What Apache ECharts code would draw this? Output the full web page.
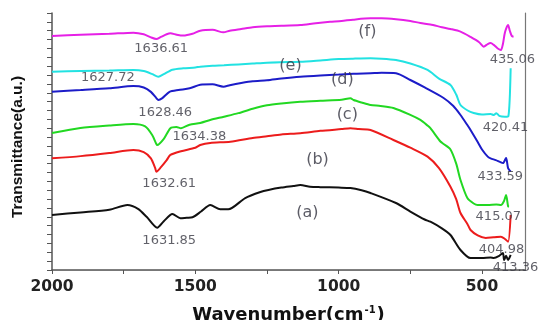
<!DOCTYPE html>
<html>
<head>
<meta charset="utf-8">
<script src="https://cdn.jsdelivr.net/npm/echarts@6/dist/echarts.min.js"></script>
<style>html,body{margin:0;padding:0;background:#fff;}#c{width:539px;height:320px;}</style>
</head>
<body>
<div id="c"></div>
<script>
// ---- data (wavenumber cm^-1, transmittance a.u.) ----
const wF = [2000,1900,1800,1716,1680,1655,1636,1620,1600,1587,1565,1542,1510,1483,1440,1402,1380,1340,1300,1250,1200,1134,1080,1030,990,950,889,850,800,750,715,680,640,610,575,540,510,494,480,470,459,445,434,427,420,409,403,396,390];
const vF = [26.40,26.55,26.65,26.78,26.60,26.25,26.07,26.30,26.60,26.71,26.55,26.45,26.65,27.00,27.10,26.82,27.00,27.20,27.40,27.50,27.55,27.65,27.85,28.00,28.10,28.25,28.40,28.40,28.30,28.10,27.87,27.70,27.40,27.20,26.90,26.30,25.70,25.20,25.50,25.61,25.40,25.00,24.82,25.50,26.80,27.65,27.00,26.40,26.33];

const wE = [2000,1900,1800,1716,1680,1650,1629,1610,1580,1542,1500,1483,1440,1400,1350,1300,1250,1200,1134,1064,1000,950,889,850,800,750,690,650,610,590,575,550,529,500,470,459,450,440,420,408,400];
const vE = [22.38,22.45,22.50,22.57,22.45,22.10,21.81,22.10,22.60,22.76,22.85,22.94,23.05,23.10,23.20,23.30,23.40,23.45,23.50,23.65,23.80,23.85,23.89,23.85,23.70,23.30,22.57,21.60,20.88,19.80,18.62,18.00,17.72,17.55,17.60,17.49,17.70,17.40,17.30,17.35,22.76];

const wD = [2000,1900,1800,1716,1680,1655,1636,1629,1615,1590,1559,1520,1483,1440,1402,1380,1340,1300,1250,1200,1134,1064,1000,950,889,850,800,750,700,634,600,575,550,540,515,500,480,470,452,427,416,409,400];
const vD = [20.12,20.30,20.50,20.76,20.60,20.10,19.40,19.18,19.40,20.10,20.31,20.50,20.90,20.95,20.68,20.85,21.10,21.30,21.40,21.60,21.81,21.95,22.05,22.15,22.20,22.25,22.20,21.44,20.60,19.41,18.50,17.49,16.30,15.80,14.44,13.60,12.79,12.60,12.40,12.07,12.64,11.50,11.09];

const wC = [2000,1901,1800,1716,1675,1650,1636,1633,1610,1587,1566,1550,1520,1483,1448,1400,1350,1300,1250,1200,1134,1064,990,959,948,920,889,854,809,750,715,690,680,645,634,610,590,575,551,529,515,480,450,434,423,416,409,406];
const vC = [15.46,16.02,16.30,16.47,16.20,15.20,14.22,14.10,14.80,16.00,16.14,16.00,16.40,16.59,16.93,17.30,17.70,18.20,18.60,18.80,18.99,19.10,19.20,19.38,19.18,18.90,18.62,18.51,18.28,17.50,16.93,16.30,16.00,14.50,14.22,13.60,12.00,10.16,8.12,7.50,7.33,7.33,7.40,7.33,7.80,8.46,7.20,7.14];

const wB = [2000,1900,1800,1716,1680,1655,1640,1636,1620,1600,1587,1550,1500,1483,1448,1378,1300,1250,1200,1134,1064,990,959,930,889,809,750,690,650,610,590,575,551,540,515,487,460,434,420,409,400];
const vB = [12.60,12.85,13.20,13.54,13.30,12.60,11.50,11.09,11.60,12.40,12.98,13.40,13.80,14.10,14.33,14.48,14.90,15.10,15.30,15.43,15.70,15.90,15.99,15.90,15.80,14.67,13.80,12.79,11.50,9.40,8.00,6.43,5.20,4.51,3.90,3.61,3.70,3.76,3.50,3.19,6.21];

const wA = [2000,1900,1800,1737,1700,1670,1633,1610,1580,1552,1530,1510,1480,1448,1413,1385,1326,1273,1245,1200,1158,1134,1100,1064,1000,959,920,889,800,750,700,680,640,610,575,540,500,470,459,440,427,423,416,409,400];
const vA = [6.21,6.50,6.80,7.33,6.90,6.00,4.77,5.50,6.32,5.83,5.90,5.95,6.60,7.33,6.85,6.85,8.12,8.80,9.03,9.30,9.48,9.59,9.40,9.35,9.30,9.25,9.00,8.69,7.56,6.60,5.70,5.45,4.70,3.95,2.26,1.35,1.35,1.40,1.35,1.60,1.92,1.13,1.60,1.13,1.70];

// annotations
const annoText = ['1636.61','1627.72','1628.46','1634.38','1632.61','1631.85','435.06','420.41','433.59','415.07','404.98','413.36'];
const annoW    = [1619,1805,1605,1486,1591,1591,394,418,436,443,432,383];
const annoV    = [24.94,21.67,17.72,15.01,9.70,3.27,23.70,16.02,10.49,5.98,2.26,0.23];
const curveText = ['(f)','(e)','(d)','(c)','(b)','(a)'];
const curveW    = [900,1168,987,970,1074,1109];
const curveV    = [26.86,23.02,21.44,17.49,12.41,6.43];

const xLabelVals = [2000,1500,1000,500];
const xTickVals = [2000,1750,1500,1250,1000,750,500];

// ---- chart ----
const zip = (w, v) => w.map((x, i) => [x, v[i]]);
const lineS = (name, w, v, color) => ({
  name, type: 'line', data: zip(w, v), showSymbol: false, smooth: 0.25,
  lineStyle: { color, width: 2 }, z: 3
});
const textS = (names, w, v, style) => ({
  type: 'scatter', symbolSize: 0, clip: false, silent: true, z: 5,
  data: names.map((n, i) => ({ name: n, value: [w[i], v[i]] })),
  label: Object.assign({ show: true, position: 'inside', formatter: p => p.name }, style)
});

const chart = echarts.init(document.getElementById('c'), null, { renderer: 'canvas' });
const axisCol = '#555';
chart.setOption({
  animation: false,
  backgroundColor: '#fff',
  grid: { left: 52, right: 14, top: 13, bottom: 50, containLabel: false, outerBoundsMode: 'none' },
  xAxis: [{
    type: 'value', min: 350, max: 2000, inverse: true,
    name: 'Wavenumber(cm{sup|-1})', nameLocation: 'middle', nameGap: 35,
    nameTextStyle: { fontFamily: 'DejaVu Sans', fontWeight: 'bold', fontSize: 18, color: '#111',
      rich: { sup: { fontFamily: 'DejaVu Sans', fontWeight: 'bold', fontSize: 10, color: '#111', padding: [0, 1, 10, 1] } } },
    axisLine: { show: true, lineStyle: { color: axisCol, width: 1.5 } },
    axisTick: { show: true, customValues: xTickVals, length: 4, lineStyle: { color: axisCol } },
    axisLabel: { customValues: xLabelVals, formatter: v => String(v), fontFamily: 'DejaVu Sans', fontWeight: 'bold', fontSize: 15.5, color: '#222', margin: 9 },
    splitLine: { show: false }
  }, {
    type: 'value', min: 350, max: 2000, inverse: true, position: 'top',
    axisLine: { show: true, lineStyle: { color: '#777', width: 1.2 } },
    axisTick: { show: false }, axisLabel: { show: false }, splitLine: { show: false }
  }],
  yAxis: [{
    type: 'value', min: 0, max: 29, interval: 1,
    name: 'Transmittance(a.u.)', nameLocation: 'middle', nameGap: 26,
    nameTextStyle: { fontFamily: 'Liberation Sans', fontWeight: 'bold', fontSize: 15.5, color: '#111', padding: [0, 11, 0, 0] },
    axisLine: { show: true, lineStyle: { color: axisCol, width: 1.5 } },
    axisTick: { show: true, length: 5, lineStyle: { color: axisCol } },
    axisLabel: { show: false }, splitLine: { show: false }
  }, {
    type: 'value', min: 0, max: 29, position: 'right',
    axisLine: { show: true, lineStyle: { color: '#777', width: 1.2 } },
    axisTick: { show: false }, axisLabel: { show: false }, splitLine: { show: false }
  }],
  series: [
    lineS('f', wF, vF, '#e620e6'),
    lineS('e', wE, vE, '#22e2e2'),
    lineS('d', wD, vD, '#1c1cc8'),
    lineS('c', wC, vC, '#22d822'),
    lineS('b', wB, vB, '#ec1c1c'),
    lineS('a', wA, vA, '#111111'),
    textS(annoText, annoW, annoV, { fontFamily: 'DejaVu Sans', fontSize: 13, color: '#3a3a44' }),
    textS(curveText, curveW, curveV, { fontFamily: 'DejaVu Sans', fontSize: 16, color: '#333340' })
  ]
});
</script>
</body>
</html>
